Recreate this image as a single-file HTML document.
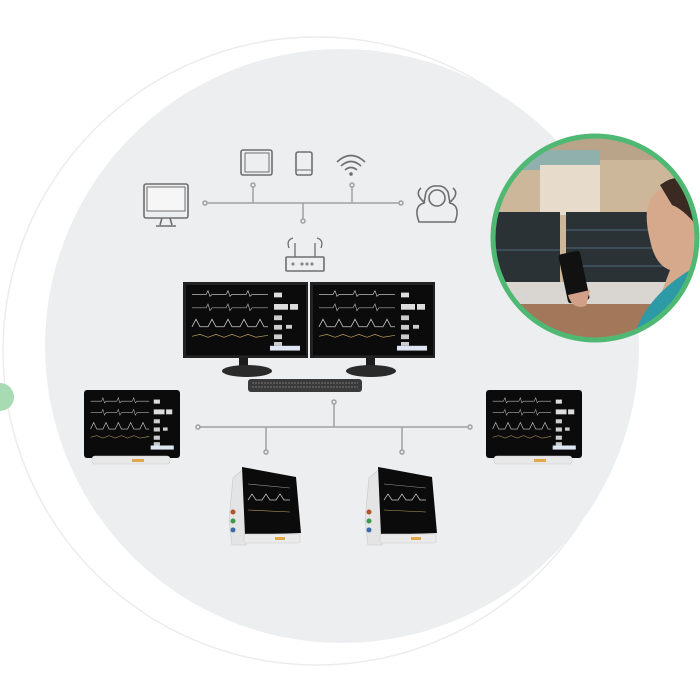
<!DOCTYPE html>
<html><head><meta charset="utf-8"><style>
html,body{margin:0;padding:0;background:#fff;}
svg{display:block;}
</style></head><body>
<svg width="700" height="700" viewBox="0 0 700 700" xmlns="http://www.w3.org/2000/svg">
<defs>
<clipPath id="pc"><circle cx="595" cy="238" r="102"/></clipPath>
<g id="scr">
 <rect x="0" y="0" width="120" height="74" fill="#0b0b0b"/>
 <polyline points="6,10 20,10 22,6 24,12 26,10 40,10 42,6 44,12 46,10 60,10 62,6 64,12 66,10 82,10" fill="none" stroke="#bbb" stroke-width="0.7"/>
 <polyline points="6,24 20,24 22,20 24,27 26,24 40,24 42,20 44,27 46,24 60,24 62,20 64,27 66,24 82,24" fill="none" stroke="#aaa" stroke-width="0.7"/>
 <polyline points="6,44 10,36 14,44 22,44 26,36 30,44 38,44 42,36 46,44 54,44 58,36 62,44 70,44 74,36 78,44 82,44" fill="none" stroke="#ccc" stroke-width="0.8"/>
 <polyline points="6,54 14,52 22,55 30,52 38,55 46,52 54,55 62,52 70,55 82,53" fill="none" stroke="#b8a060" stroke-width="0.7"/>
 <rect x="88" y="8" width="8" height="5" fill="#ddd"/><rect x="88" y="20" width="14" height="6" fill="#ddd"/><rect x="104" y="20" width="8" height="6" fill="#ddd"/>
 <rect x="88" y="32" width="8" height="5" fill="#ccc"/><rect x="88" y="42" width="8" height="5" fill="#ccc"/><rect x="100" y="42" width="6" height="4" fill="#ccc"/>
 <rect x="88" y="52" width="8" height="5" fill="#ccc"/><rect x="88" y="60" width="8" height="4" fill="#ccc"/>
 <rect x="84" y="64" width="30" height="5" fill="#dde6f2"/>
</g>
</defs>
<!-- faint outer arc -->
<circle cx="317" cy="351" r="314" fill="none" stroke="#ececec" stroke-width="1.5"/>
<!-- main circle -->
<circle cx="342" cy="346" r="297" fill="#edeef0"/>
<!-- left green dot -->
<circle cx="0" cy="397" r="14" fill="#a8dab4"/>

<!-- top bus -->
<g stroke="#a0a0a0" stroke-width="1.5" fill="none">
 <line x1="205" y1="203" x2="401" y2="203"/>
 <line x1="253" y1="186" x2="253" y2="203"/>
 <line x1="352" y1="186" x2="352" y2="203"/>
 <line x1="303" y1="203" x2="303" y2="219"/>
 <circle cx="205" cy="203" r="2" fill="#edeef0"/><circle cx="401" cy="203" r="2" fill="#edeef0"/>
 <circle cx="253" cy="185" r="2" fill="#edeef0"/><circle cx="352" cy="185" r="2" fill="#edeef0"/>
 <circle cx="303" cy="221" r="2" fill="#edeef0"/>
</g>
<!-- icons -->
<g stroke="#6e6e6e" stroke-width="1.6" fill="none">
 <rect x="144" y="184" width="44" height="34" rx="2"/><rect x="147" y="187" width="38" height="24" fill="#f6f6f6" stroke-width="1"/>
 <path d="M162 218 L160 225 M170 218 L172 225 M156 226 H176"/>
 <rect x="241" y="150" width="31" height="25" rx="2"/><rect x="245" y="153" width="24" height="19" stroke-width="1"/>
 <rect x="296" y="152" width="16" height="23" rx="2"/><line x1="297" y1="170" x2="311" y2="170" stroke-width="1"/>
 <path d="M337 162 Q351 149 365 162 M341 166 Q351 157 361 166 M345 170 Q351 165 357 170"/><circle cx="351" cy="174" r="1" fill="#6e6e6e"/>
 <path d="M419 222 Q413 206 424 203 L426 192 Q430 185 437 186 Q444 185 448 192 L450 203 Q461 206 455 222 Z"/>
 <circle cx="437" cy="198" r="8"/><path d="M425 203 Q414 194 421 188 M449 203 Q460 194 453 188"/>
 <rect x="286" y="257" width="38" height="14" rx="1"/><path d="M295 257 V243 M315 257 V243 M289 248 Q286 240 293 238 M321 248 Q324 240 317 238" stroke-width="1.3"/>
 <circle cx="293" cy="264" r="1" stroke-width="1"/><circle cx="302" cy="264" r="1" stroke-width="1"/><circle cx="307" cy="264" r="1" stroke-width="1"/><circle cx="312" cy="264" r="1" stroke-width="1"/>
</g>

<!-- dual monitors -->
<rect x="183" y="282" width="125" height="76" fill="#222"/>
<use href="#scr" transform="translate(186,285) scale(1.0,0.95)"/>
<rect x="310" y="282" width="125" height="76" fill="#222"/>
<use href="#scr" transform="translate(313,285) scale(1.0,0.95)"/>
<rect x="239" y="358" width="9" height="10" fill="#1c1c1c"/>
<ellipse cx="247" cy="371" rx="25" ry="6" fill="#2a2a2a"/>
<rect x="366" y="358" width="9" height="10" fill="#1c1c1c"/>
<ellipse cx="371" cy="371" rx="25" ry="6" fill="#2a2a2a"/>
<rect x="248" y="379" width="114" height="13" rx="3" fill="#3a3a3a"/>
<path d="M252 383 H358 M252 387 H358" stroke="#777" stroke-width="1" stroke-dasharray="2 1"/>

<!-- bottom bus -->
<g stroke="#a0a0a0" stroke-width="1.5" fill="none">
 <line x1="198" y1="427" x2="470" y2="427"/>
 <line x1="334" y1="404" x2="334" y2="427"/>
 <line x1="266" y1="427" x2="266" y2="450"/>
 <line x1="402" y1="427" x2="402" y2="450"/>
 <circle cx="198" cy="427" r="2" fill="#edeef0"/><circle cx="470" cy="427" r="2" fill="#edeef0"/>
 <circle cx="334" cy="402" r="2" fill="#edeef0"/>
 <circle cx="266" cy="452" r="2" fill="#edeef0"/><circle cx="402" cy="452" r="2" fill="#edeef0"/>
</g>

<!-- side monitors -->
<g>
 <rect x="84" y="390" width="96" height="68" rx="3" fill="#0b0b0b"/>
 <use href="#scr" transform="translate(86,393) scale(0.77,0.82)"/>
 <rect x="92" y="456" width="78" height="8" rx="3" fill="#e8e8e8" stroke="#ccc" stroke-width="0.6"/>
 <rect x="132" y="459" width="12" height="3" fill="#e0a84a"/>
 <rect x="486" y="390" width="96" height="68" rx="3" fill="#0b0b0b"/>
 <use href="#scr" transform="translate(488,393) scale(0.77,0.82)"/>
 <rect x="494" y="456" width="78" height="8" rx="3" fill="#e8e8e8" stroke="#ccc" stroke-width="0.6"/>
 <rect x="534" y="459" width="12" height="3" fill="#e0a84a"/>
</g>
<!-- angled monitors -->
<g id="am">
 <path d="M229 520 L233 478 L242 470 L246 470 L246 545 L232 545 Z" fill="#e4e4e4" stroke="#c8c8c8" stroke-width="0.6"/>
 <polygon points="242,467 296,477 301,533 245,535" fill="#0b0b0b"/>
 <polyline points="248,500 252,494 256,500 262,500 266,494 270,500 276,500 280,494 284,500 290,500" fill="none" stroke="#ccc" stroke-width="0.7"/>
 <polyline points="248,484 290,488" fill="none" stroke="#999" stroke-width="0.6"/>
 <polyline points="248,510 290,512" fill="none" stroke="#b8a060" stroke-width="0.6"/>
 <rect x="244" y="534" width="56" height="9" rx="2" fill="#eaeaea" stroke="#ccc" stroke-width="0.6"/>
 <circle cx="233" cy="512" r="2.5" fill="#b0542c"/><circle cx="233" cy="521" r="2.5" fill="#3a9a4a"/><circle cx="233" cy="530" r="2.5" fill="#3a6aa8"/>
 <rect x="275" y="537" width="10" height="3" fill="#e0a84a"/>
</g>
<use href="#am" transform="translate(136,0)"/>

<!-- photo circle -->
<g clip-path="url(#pc)">
 <rect x="490" y="130" width="210" height="220" fill="#cdb79a"/>
 <rect x="490" y="130" width="210" height="30" fill="#b9a48a"/>
 <rect x="500" y="150" width="100" height="20" fill="#8fb0ac"/>
 <rect x="540" y="165" width="60" height="50" fill="#e7dccc"/>
 <rect x="490" y="212" width="70" height="70" fill="#2b3236"/>
 <rect x="566" y="212" width="120" height="70" fill="#2b3236"/>
 <g stroke="#4d6b7a" stroke-width="1"><line x1="566" y1="230" x2="686" y2="230"/><line x1="566" y1="248" x2="686" y2="248"/><line x1="566" y1="266" x2="686" y2="266"/><line x1="490" y1="250" x2="560" y2="250"/></g>
 <rect x="490" y="282" width="210" height="22" fill="#d9d6d2"/>
 <rect x="490" y="304" width="210" height="50" fill="#a3785a"/>
 <path d="M660 190 Q640 200 650 240 Q655 265 670 270 L640 350 L700 350 L700 180 Z" fill="#d7a98c"/>
 <path d="M660 185 Q680 170 700 185 L700 230 Q685 210 672 205 Z" fill="#3a2a22"/>
 <path d="M630 350 Q640 300 690 270 L700 270 L700 350 Z" fill="#2d9aa6"/>
 <rect x="563" y="252" width="22" height="50" rx="3" fill="#111" transform="rotate(-12 574 277)"/>
 <path d="M568 295 Q572 310 586 306 L590 290 Z" fill="#d2a088"/>
</g>
<circle cx="595" cy="238" r="102" fill="none" stroke="#4fb872" stroke-width="5"/>
</svg>
</body></html>
